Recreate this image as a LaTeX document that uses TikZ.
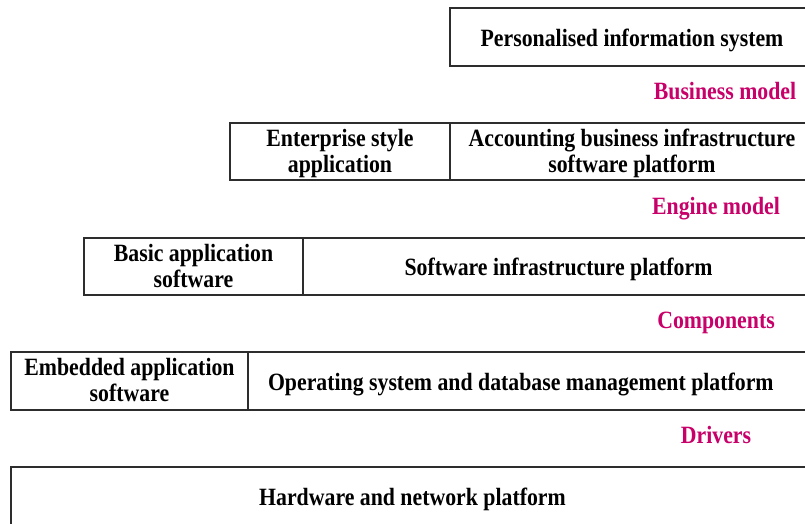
\documentclass[tikz,border=0pt]{standalone}
\usepackage{fontspec}
\setmainfont{Liberation Serif}
\definecolor{layerpink}{RGB}{200,0,105}
\definecolor{edgegray}{RGB}{45,45,45}

\begin{document}
\begin{tikzpicture}[x=1pt,y=1pt,yscale=-1,
  % text in the source is drawn taller than Times, so stretch it upright
  tall/.style={yscale=-1.14, transform shape},
  cell/.style={tall, draw=edgegray, line width=1.4pt, inner sep=0pt, align=center,
    minimum height=50.9, text depth=0pt, text height=15.8pt,
    font=\bfseries\fontsize{21.8}{22.8}\selectfont},
  cell2/.style={cell, text height=36.8pt},
  layer/.style={tall, text=layerpink, inner sep=0pt, anchor=base,
    font=\bfseries\fontsize{21.8}{22.8}\selectfont}]
\useasboundingbox (0,0) rectangle (805,523);
\clip (0,0) rectangle (805,523);
% top layer
\node[cell, minimum width=364] (pis) at (632,37) {Personalised information system};
\node[layer] (busm) at (725,99) {Business model};
% enterprise layer
\node[cell2, minimum width=220, minimum height=50] (esa) at (340,151.5) {Enterprise style\\application};
\node[cell2, minimum width=364, minimum height=50] (abi) at (632,151.5) {Accounting business infrastructure\\software platform};
\node[layer] (engm) at (716,214) {Engine model};
% basic layer
\node[cell2, minimum width=219, minimum height=50] (bas) at (193.5,266.5) {Basic application\\software};
\node[cell, minimum width=511, minimum height=50] (sip) at (558.5,266.5) {Software infrastructure platform};
\node[layer] (comp) at (716,328) {Components};
% embedded layer
\node[cell2, minimum width=237] (eas) at (129.5,381) {Embedded application\\software};
\node[cell, minimum width=566, text width=526, align=flush left] (osd) at (531,381) {Operating system and database management platform};
\node[layer] (drv) at (716,443) {Drivers};
% hardware layer
\node[cell, minimum width=803] (hnp) at (412.5,496) {Hardware and network platform};
\end{tikzpicture}
\end{document}
